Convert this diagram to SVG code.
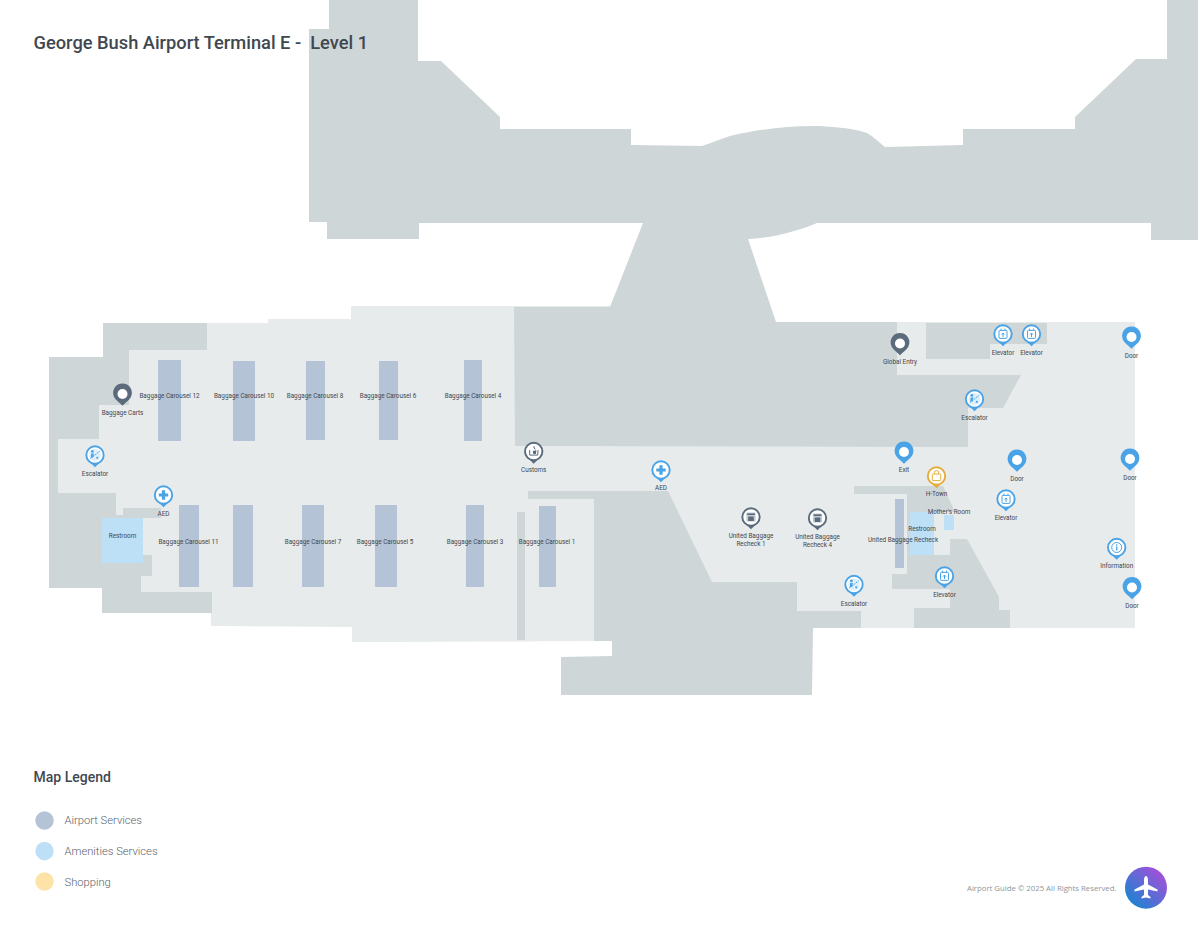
<svg xmlns="http://www.w3.org/2000/svg" width="1200" height="927" viewBox="0 0 1200 927">
<style>
.bg{fill:#fff}
.wall{fill:#cfd6d8}
.floor{fill:#e7ebec}
.svc{fill:#b5c3d6}
.ame{fill:#bee0f7}
.shop{fill:#fde3a7}
text{font-family:Roboto,"Liberation Sans",sans-serif}
.l{font-size:6.35px;fill:#3f474e;text-anchor:middle}
.t{font-size:18.28px;font-weight:500;fill:#3f4850;white-space:pre}
.lh{font-size:14px;font-weight:500;fill:#3f4850}
.li{font-size:11.2px;font-weight:300;fill:#59636c}
.f{font-size:7.8px;fill:#8e959b;font-family:"Open Sans","Liberation Sans",sans-serif}
.b{color:#4aa3e6}.d{color:#5b6b7c}.y{color:#e3ad3b}
.ic{fill:none;stroke:currentColor;stroke-width:1}
.if{fill:currentColor}
</style>
<defs>
<g id="pin-o">
<path d="M-4.8 7.4L0 12.2L4.8 7.4Z" fill="currentColor"/>
<circle r="8.7" fill="#fff" stroke="currentColor" stroke-width="1.9"/>
</g>
<g id="pin-s">
<path d="M-8.3 3.2A9.4 9.4 0 1 1 8.3 3.2C6.6 6.2 3 8.6 0 11.7C-3 8.6-6.6 6.2-8.3 3.2Z" fill="currentColor"/>
<circle r="5" fill="#fff"/>
</g>
<g id="i-esc">
<use href="#pin-o"/>
<circle r="6" fill="currentColor" opacity=".18"/>
<path d="M-4.8 3.6L4.8-3.8" class="ic" stroke-dasharray="1.8 .9" stroke-width="1.1"/>
<circle cx="-2.6" cy="-3.6" r="1.4" class="if"/>
<path d="M-3.8-1.6L-1.2-1.4L-1.8 2.6L-4.2 2.6Z" class="if"/>
<circle cx="2.3" cy="2.8" r="1.1" class="if"/>
</g>
<g id="i-aed">
<use href="#pin-o"/>
<path d="M-1.6-4.7H1.6V-1.6H4.7V1.6H1.6V4.7H-1.6V1.6H-4.7V-1.6H-1.6Z" class="if"/>
</g>
<g id="i-lift">
<use href="#pin-o"/>
<rect x="-4" y="-3.6" width="8" height="8" rx=".8" fill="currentColor" fill-opacity=".18" class="ic" stroke-width="1"/>
<path d="M0 3V-.8M-1.4.6L0-1L1.4.6" class="ic" stroke-width=".9"/>
<path d="M-2-5.4V-4M2-5.4V-4" class="ic" stroke-width=".9"/>
</g>
<g id="i-bag">
<use href="#pin-o"/>
<rect x="-4.6" y="-4.6" width="9.2" height="9.2" rx=".6" fill="#c3cad2"/>
<rect x="-3.8" y="-3.6" width="7.6" height="1.6" class="if"/>
<rect x="-2.8" y="-.6" width="5.6" height="4.6" rx=".6" class="if"/>
</g>
<g id="i-cus">
<use href="#pin-o"/>
<path d="M-4-1.6V3.6H4L4.4-1.4" class="ic"/>
<path d="M-1-.6L2.8-1.2L2.2 2.4H-.4Z" class="if"/>
<path d="M.6-3.8L1.4-2" class="ic"/>
<circle cx=".4" cy="-4.4" r=".8" class="if"/>
</g>
<g id="i-shop">
<use href="#pin-o"/>
<rect x="-4.2" y="-2" width="8.4" height="6.6" rx=".8" fill="currentColor" fill-opacity=".18" class="ic"/>
<path d="M-2.2-2V-3.2A2.2 2.2 0 0 1 2.2-3.2V-2" class="ic"/>
</g>
<g id="i-info">
<use href="#pin-o"/>
<circle r="5" fill="currentColor" fill-opacity=".18" class="ic" stroke-width=".9"/>
<circle cy="-2.4" r=".8" class="if"/>
<rect x="-.7" y="-1" width="1.4" height="3.8" class="if"/>
</g>
<linearGradient id="lg" x1="0" y1="1" x2="1" y2="0">
<stop offset=".12" stop-color="#1b84d2"/>
<stop offset=".88" stop-color="#a44fd8"/>
</linearGradient>
</defs>

<rect class="bg" width="1200" height="927"/>

<g id="building">
<path class="wall" d="M329 0H418V61H441L500 117V129H631V145L702 146C712 143 720 139 730 136C755 130 785 126 813 126C830 126 852 128 867 133C874 137 880 143 885 147L963 145V129H1075V117L1136 59H1167V0H1198V240H1151V223H817C800 230 775 238 748 239L776 322H640L610 307L643 223H419V239H327V222H309V29H329Z"/>
<path class="floor" d="M103 323H268V319H351V306H612V322H1135V628H612V641L352 642V627L211 626V613H103V588H49V357H103Z"/>
<path class="wall" d="M514 307H610L640 240L776 322H897V375H1021L1003 408H968V447L515 446Z"/>
<path class="wall" d="M926 323H1047V344H990V359H926Z"/>
<path class="wall" d="M49 357H103V323H207V350H129V405H99V439H58V493H116V515H143V555H152V576H141V592H212V613H102V588H49Z"/>
<rect class="wall" x="123" y="508" width="38" height="10"/>
<path class="wall" d="M528 491H668L712 582H797V611H861V628H813L812 695H561V657L612 656V641H594V499H528Z"/>
<path class="wall" d="M854 486H943L955 512H934V555H950V539H967L999 597V610H1010V628H914V608H950V589H892V574H907V494H854Z"/>
<rect class="wall" x="517" y="512" width="8" height="128"/>
</g>

<g id="areas">
<rect class="svc" x="158" y="360" width="23" height="81"/>
<rect class="svc" x="233" y="361" width="22" height="80"/>
<rect class="svc" x="306" y="361" width="19" height="79"/>
<rect class="svc" x="379" y="361" width="19" height="79"/>
<rect class="svc" x="464" y="360" width="18" height="81"/>
<rect class="svc" x="179" y="505" width="20" height="82"/>
<rect class="svc" x="233" y="505" width="20" height="82"/>
<rect class="svc" x="302" y="505" width="22" height="82"/>
<rect class="svc" x="375" y="505" width="22" height="82"/>
<rect class="svc" x="466" y="505" width="18" height="82"/>
<rect class="svc" x="539" y="506" width="17" height="81"/>
<rect class="svc" x="895" y="499" width="9" height="69"/>
<rect class="ame" x="102" y="518" width="41" height="45"/>
<rect class="ame" x="910" y="512" width="24" height="43"/>
<rect class="ame" x="944" y="515" width="10" height="15"/>
</g>

<g id="area-labels">
<text class="l" x="169.500" y="398.300">Baggage Carousel 12</text>
<text class="l" x="244" y="398.300">Baggage Carousel 10</text>
<text class="l" x="315" y="398.300">Baggage Carousel 8</text>
<text class="l" x="388" y="398.300">Baggage Carousel 6</text>
<text class="l" x="473" y="398.300">Baggage Carousel 4</text>
<text class="l" x="188.500" y="543.800">Baggage Carousel 11</text>
<text class="l" x="313" y="543.800">Baggage Carousel 7</text>
<text class="l" x="385" y="543.800">Baggage Carousel 5</text>
<text class="l" x="475" y="543.800">Baggage Carousel 3</text>
<text class="l" x="547" y="543.800">Baggage Carousel 1</text>
<text class="l" x="122.500" y="538.300">Restroom</text>
<text class="l" x="922" y="530.800">Restroom</text>
<text class="l" x="949" y="514.300">Mother's Room</text>
<text class="l" x="903" y="542.300">United Baggage Recheck</text>
</g>

<g id="pin-baggage-carts" class="d"><use href="#pin-s" x="122.500" y="394"/><text class="l" x="122.500" y="414.800">Baggage Carts</text></g>
<g id="pin-escalator-1" class="b"><use href="#i-esc" x="95" y="455"/><text class="l" x="95" y="476.300">Escalator</text></g>
<g id="pin-aed-1" class="b"><use href="#i-aed" x="163.500" y="495"/><text class="l" x="163.500" y="515.800">AED</text></g>
<g id="pin-customs" class="d"><use href="#i-cus" x="533.700" y="451.500"/><text class="l" x="533.700" y="472.300">Customs</text></g>
<g id="pin-aed-2" class="b"><use href="#i-aed" x="661" y="470"/><text class="l" x="661" y="490.300">AED</text></g>
<g id="pin-exit" class="b"><use href="#pin-s" x="904" y="452"/><text class="l" x="904" y="472.300">Exit</text></g>
<g id="pin-recheck-1" class="d"><use href="#i-bag" x="751" y="517"/><text class="l" x="751" y="538.300">United Baggage</text><text class="l" x="751" y="546.300">Recheck 1</text></g>
<g id="pin-recheck-4" class="d"><use href="#i-bag" x="817.500" y="518"/><text class="l" x="817.500" y="539">United Baggage</text><text class="l" x="817.500" y="547">Recheck 4</text></g>
<g id="pin-escalator-2" class="b"><use href="#i-esc" x="854" y="584.500"/><text class="l" x="854" y="605.500">Escalator</text></g>
<g id="pin-global-entry" class="d"><use href="#pin-s" x="900" y="343.500"/><text class="l" x="900" y="364.300">Global Entry</text></g>
<g id="pin-elevator-1" class="b"><use href="#i-lift" x="1003" y="334"/><text class="l" x="1003" y="354.800">Elevator</text></g>
<g id="pin-elevator-2" class="b"><use href="#i-lift" x="1031.500" y="334"/><text class="l" x="1031.500" y="354.800">Elevator</text></g>
<g id="pin-door-1" class="b"><use href="#pin-s" x="1131.500" y="337"/><text class="l" x="1131.500" y="358.300">Door</text></g>
<g id="pin-escalator-3" class="b"><use href="#i-esc" x="974.500" y="399"/><text class="l" x="974.500" y="420.300">Escalator</text></g>
<g id="pin-door-2" class="b"><use href="#pin-s" x="1017" y="460"/><text class="l" x="1017" y="481.300">Door</text></g>
<g id="pin-door-3" class="b"><use href="#pin-s" x="1130" y="459"/><text class="l" x="1130" y="479.800">Door</text></g>
<g id="pin-h-town" class="y"><use href="#i-shop" x="936.500" y="476"/><text class="l" x="936.500" y="496.300">H-Town</text></g>
<g id="pin-elevator-3" class="b"><use href="#i-lift" x="1006" y="499"/><text class="l" x="1006" y="519.800">Elevator</text></g>
<g id="pin-elevator-4" class="b"><use href="#i-lift" x="944.500" y="576"/><text class="l" x="944.500" y="596.800">Elevator</text></g>
<g id="pin-information" class="b"><use href="#i-info" x="1116.700" y="547.500"/><text class="l" x="1116.700" y="568.300">Information</text></g>
<g id="pin-door-4" class="b"><use href="#pin-s" x="1132" y="587.500"/><text class="l" x="1132" y="608.300">Door</text></g>

<text id="title" class="t" x="33.500" y="49">George Bush Airport Terminal E -  Level 1</text>

<g id="legend">
<text class="lh" x="33.500" y="781.500">Map Legend</text>
<circle class="svc" cx="44.500" cy="820.500" r="9.200"/>
<text class="li" x="64.500" y="824">Airport Services</text>
<circle class="ame" cx="44.500" cy="851" r="9.200"/>
<text class="li" x="64.500" y="854.800">Amenities Services</text>
<circle class="shop" cx="44.500" cy="881.500" r="9.200"/>
<text class="li" x="64.500" y="885.500">Shopping</text>
</g>

<g id="footer">
<text class="f" x="967" y="890.500" textLength="149.500">Airport Guide © 2025 All Rights Reserved.</text>
<circle cx="1146" cy="887.700" r="21" fill="url(#lg)"/>
<path fill="#fff" d="M1146 876C1147.500 876 1148 878.500 1148 880.500V884.500L1157.500 889.500V891.500L1148 889.500V895L1150.500 897V898.500L1146 897.500L1141.500 898.500V897L1144 895V889.500L1134.500 891.500V889.500L1144 884.500V880.500C1144 878.500 1144.500 876 1146 876Z"/>
</g>
</svg>
